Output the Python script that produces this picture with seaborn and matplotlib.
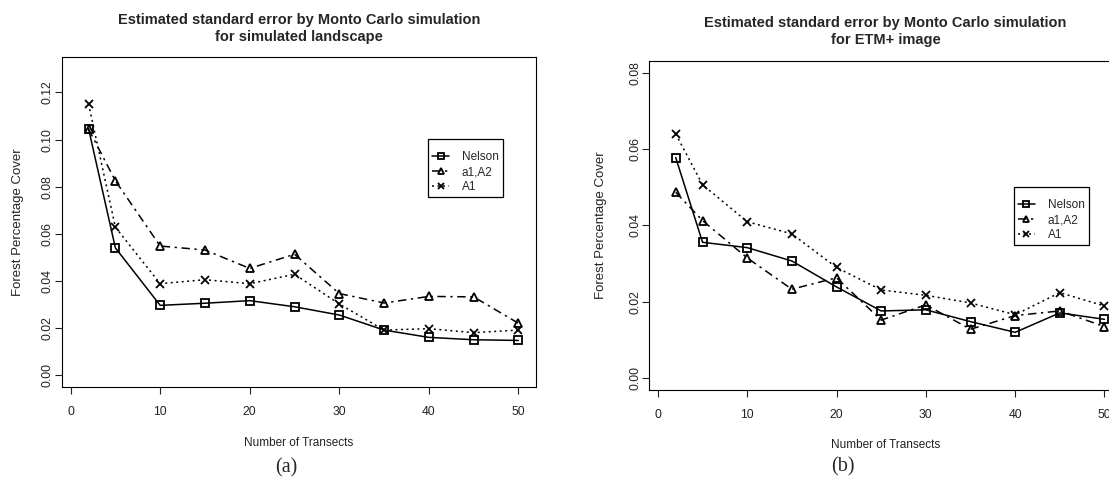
import matplotlib
matplotlib.use("Agg")
import matplotlib.pyplot as plt
import pandas as pd
import seaborn as sns

# Number of transects sampled
n_transects = [2, 5, 10, 15, 20, 25, 30, 35, 40, 45, 50]
methods = ["Nelson", "a1,A2", "A1"]

# Estimated standard error, simulated landscape
landscape_nelson = [0.1047, 0.0540, 0.0296, 0.0305, 0.0316, 0.0290, 0.0255, 0.0191, 0.0160, 0.0150, 0.0147]
landscape_a1a2 = [0.1045, 0.0825, 0.0548, 0.0531, 0.0453, 0.0513, 0.0346, 0.0306, 0.0334, 0.0332, 0.0220]
landscape_a1 = [0.1152, 0.0628, 0.0388, 0.0405, 0.0388, 0.0428, 0.0302, 0.0191, 0.0197, 0.0180, 0.0191]

# Estimated standard error, ETM+ image
etm_nelson = [0.0578, 0.0356, 0.0342, 0.0307, 0.0239, 0.0176, 0.0179, 0.0148, 0.0120, 0.0171, 0.0154]
etm_a1a2 = [0.0487, 0.0413, 0.0315, 0.0233, 0.0263, 0.0152, 0.0192, 0.0128, 0.0164, 0.0176, 0.0135]
etm_a1 = [0.0640, 0.0507, 0.0410, 0.0378, 0.0290, 0.0231, 0.0217, 0.0197, 0.0166, 0.0224, 0.0189]

panel_titles = [
    "Estimated standard error by Monto Carlo simulation\nfor simulated landscape",
    "Estimated standard error by Monto Carlo simulation\nfor ETM+ image",
]
panel_tags = ["(a)", "(b)"]
x_label = "Number of Transects"
y_label = "Forest Percentage Cover"
x_ticks = [0, 10, 20, 30, 40, 50]
landscape_y_ticks = [0.00, 0.02, 0.04, 0.06, 0.08, 0.10, 0.12]
etm_y_ticks = [0.00, 0.02, 0.04, 0.06, 0.08]

sns.set_style("ticks")
plt.rcParams["font.family"] = ["Liberation Sans", "DejaVu Sans"]

# seaborn needs all-filled markers for the style map; the cross is swapped in afterwards
style_markers = {"Nelson": "s", "a1,A2": "^", "A1": "X"}
final_markers = {"Nelson": "s", "a1,A2": "^", "A1": "x"}
dashes = {"Nelson": "", "a1,A2": (5.5, 3, 1.5, 3), "A1": (1.3, 2.3)}
marker_sizes = {"Nelson": 5.3, "a1,A2": 6.2, "A1": 5.3}
marker_to_method = {v: k for k, v in style_markers.items()}


def long_table(nelson, a1a2, a1):
    frames = [pd.DataFrame({"n": n_transects, "se": vals, "method": name})
              for name, vals in zip(methods, (nelson, a1a2, a1))]
    return pd.concat(frames, ignore_index=True)


W, H = 1109, 478
fig = plt.figure(figsize=(W / 100, H / 100), dpi=100)
ax_a = fig.add_axes([62 / W, 1 - 387.3 / H, 474 / W, 330.6 / H])
ax_b = fig.add_axes([649.3 / W, 1 - 390.3 / H, 472.7 / W, 329.6 / H])

panels = [
    dict(ax=ax_a, data=long_table(landscape_nelson, landscape_a1a2, landscape_a1),
         ylim=(-0.0052, 0.1352), yticks=landscape_y_ticks, title_y=1.0853,
         leg=(0.7728, 0.7502), ylab_x=-0.0928, xlab_y=-0.1676, tag_x=286.6, tag_y=468),
    dict(ax=ax_b, data=long_table(etm_nelson, etm_a1a2, etm_a1),
         ylim=(-0.0032, 0.0832), yticks=etm_y_ticks, title_y=1.088,
         leg=(0.7715, 0.6159), ylab_x=-0.102, xlab_y=-0.166, tag_x=842.5, tag_y=467),
]

for p, title, tag in zip(panels, panel_titles, panel_tags):
    ax = p["ax"]
    sns.lineplot(data=p["data"], x="n", y="se", style="method", style_order=methods,
                 markers=style_markers, dashes=dashes, color="black", linewidth=1.1,
                 markersize=5, mec="black", mfc="none", mew=1.3,
                 estimator=None, sort=False, legend=False, ax=ax)

    handles, labels = [], []
    for line in ax.lines:
        name = marker_to_method.get(line.get_marker())
        if name is None:
            continue
        line.set_marker(final_markers[name])
        line.set_markersize(marker_sizes[name])
        line.set_markerfacecolor("none")
        line.set_markeredgecolor("black")
        handles.append(line)
        labels.append(name)
    order = [labels.index(m) for m in methods]
    # a blank, tiny title gives the box the extra head room of an R legend
    leg = ax.legend([handles[i] for i in order], [labels[i] for i in order],
                    loc="upper left", bbox_to_anchor=p["leg"], borderaxespad=0,
                    fancybox=False, edgecolor="black", framealpha=1, fontsize=8.5,
                    handlelength=1.4, handletextpad=1.1, labelspacing=0.25,
                    borderpad=0.35, markerscale=0.8, title=" ", title_fontsize=3.5)
    leg.get_frame().set_linewidth(0.9)

    ax.set_xlim(-0.96, 51.96)
    ax.set_ylim(*p["ylim"])
    ax.set_xticks(x_ticks)
    ax.set_xticklabels([str(t) for t in x_ticks])
    ax.set_yticks(p["yticks"])
    ax.set_yticklabels([f"{t:.2f}" for t in p["yticks"]], rotation=90, va="center")
    ax.tick_params(axis="both", direction="out", length=5, width=0.8, color="#222222",
                   labelsize=8.7, labelcolor="#222222")
    ax.tick_params(axis="x", pad=8.5)
    ax.tick_params(axis="y", pad=0.8)
    for s in ax.spines.values():
        s.set_visible(True)
        s.set_color("black")
        s.set_linewidth(0.8)

    ax.set_xlabel(x_label, fontsize=8.5, color="#222222")
    ax.set_ylabel(y_label, fontsize=9.5, color="#222222")
    ax.xaxis.label.set_va("center")
    ax.yaxis.label.set_va("center")
    ax.xaxis.set_label_coords(0.5, p["xlab_y"])
    ax.yaxis.set_label_coords(p["ylab_x"], 0.5)

    ax.set_title(title, fontsize=10.5, fontweight="bold", y=p["title_y"], va="center",
                 pad=0, linespacing=1.25)
    fig.text(p["tag_x"] / W, 1 - p["tag_y"] / H, tag, ha="center", va="center",
             family=["Liberation Serif", "DejaVu Serif"], fontsize=14.5)

fig.savefig("out.png", dpi=100)
